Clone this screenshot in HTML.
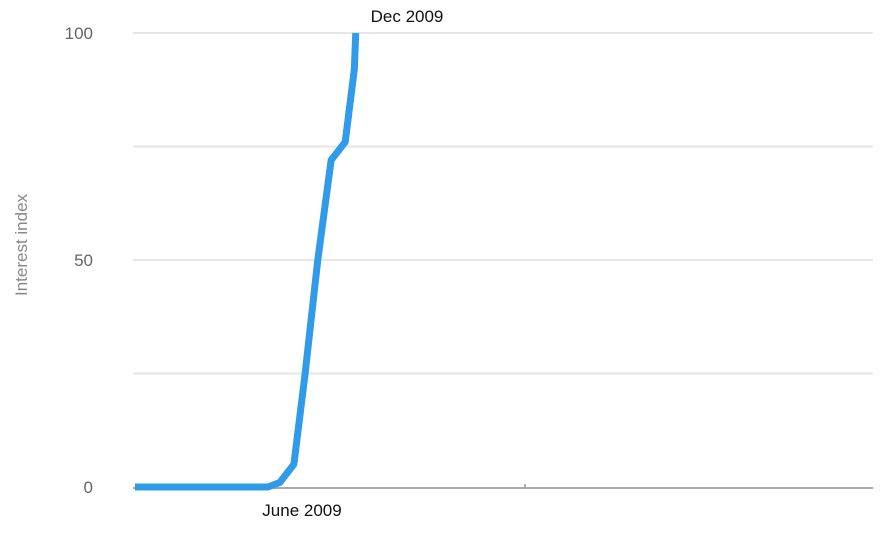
<!DOCTYPE html>
<html><head><meta charset="utf-8"><style>
body{margin:0;background:#fff;width:896px;height:540px;overflow:hidden;font-family:"Liberation Sans",sans-serif}
</style></head><body>
<svg id="chart" width="896" height="540" xmlns="http://www.w3.org/2000/svg">
<g id="grid"></g>
<g id="yticks"></g>
<text transform="translate(27,245) rotate(-90)" text-anchor="middle" font-size="17" fill="#888">Interest index</text>
<line x1="133" y1="488" x2="873" y2="488" stroke="#aaa" stroke-width="2"/>
<line x1="525" y1="484" x2="525" y2="488" stroke="#999" stroke-width="1.5"/>
<path id="series" fill="none" stroke="#2f9be9" stroke-width="7" stroke-linejoin="round"/>
<text x="302" y="516" text-anchor="middle" font-size="17" fill="#111">June 2009</text>
<text x="407" y="22" text-anchor="middle" font-size="17" fill="#111">Dec 2009</text>
</svg>
<script>
const weeks=[0,18.9,20.6,22.6,24.2,26,27.9,29.9,31.2,31.4];
const interest=[0,0,1,5,25,50,72,76,92,100];
const yTicks=[0,50,100];
const gridVals=[25,50,75,100];
const x=w=>135+w*7.03;
const y=v=>487-v*4.54;
const ns="http://www.w3.org/2000/svg";
const grid=document.getElementById('grid');
gridVals.forEach(v=>{const l=document.createElementNS(ns,'line');


l.setAttribute('x1',133);l.setAttribute('x2',873);l.setAttribute('y1',y(v));l.setAttribute('y2',y(v));
l.setAttribute('stroke','#e6e6e6');l.setAttribute('stroke-width','2');grid.appendChild(l);});
const yt=document.getElementById('yticks');
yTicks.forEach(v=>{const t=document.createElementNS(ns,'text');


t.setAttribute('x',93);t.setAttribute('y',y(v)+6);t.setAttribute('text-anchor','end');
t.setAttribute('font-size','17');t.setAttribute('fill','#666');t.textContent=v;yt.appendChild(t);});
document.getElementById('series').setAttribute('d',weeks.map((w,i)=>(i?'L':'M')+x(w)+','+y(interest[i])).join(' '));
</script>
</body></html>
